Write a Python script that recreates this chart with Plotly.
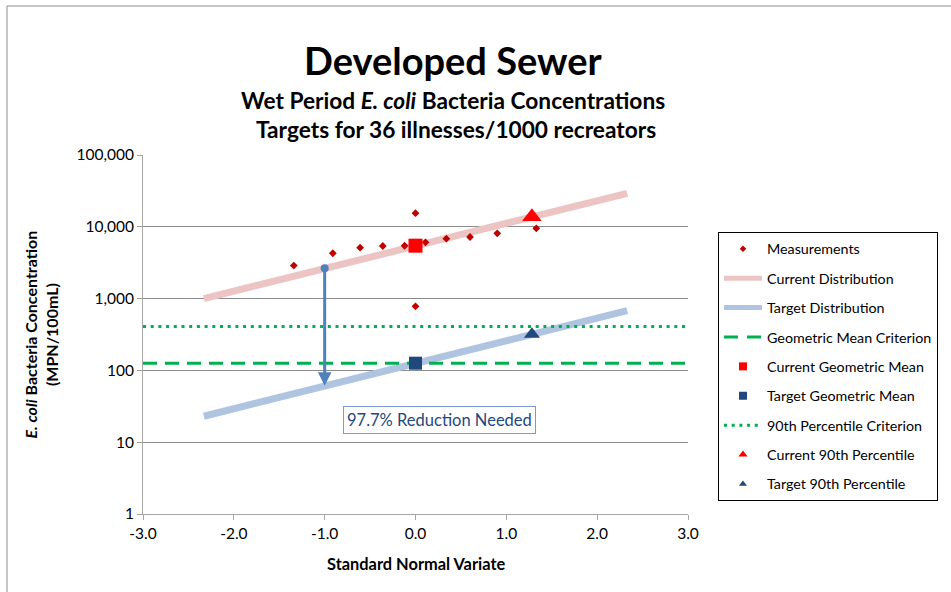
import plotly.graph_objects as go
import math

# ---------------- data ----------------
meas_z = [-1.34, -0.91, -0.61, -0.36, -0.12, 0.0, 0.11, 0.34, 0.60, 0.90, 1.33, 0.0]
meas_c = [2880, 4280, 5120, 5400, 5450, 15500, 6080, 6840, 7210, 8110, 9530, 780]

dist_z = [-2.33, 2.33]
current_dist = [1000, 29300]
target_dist = [23, 680]

crit_z = [-3.0, 3.0]
gm_criterion = [126, 126]
p90_criterion = [410, 410]

current_gm_z, current_gm = [0.0], [5460]
target_gm_z, target_gm = [0.0], [126]
current_p90_z, current_p90 = [1.2816], [13800]
target_p90_z, target_p90 = [1.2816], [318]

arrow_z = -1.0
arrow_top = 2650
arrow_bottom = 61

reduction_label = "97.7% Reduction Needed"
label_z, label_c = 0.26, 20.4

x_ticks = [-3, -2, -1, 0, 1, 2, 3]
x_tick_text = ["-3.0", "-2.0", "-1.0", "0.0", "1.0", "2.0", "3.0"]
y_ticks = [1, 10, 100, 1000, 10000, 100000]
y_tick_text = ["1", "10", "100", "1,000", "10,000", "100,000"]

FONT = "Lato"

fig = go.Figure()

# real traces (no legend)
fig.add_trace(go.Scatter(x=dist_z, y=current_dist, mode="lines",
                         line=dict(color="#EBC4C3", width=7), showlegend=False, hoverinfo="skip"))
fig.add_trace(go.Scatter(x=dist_z, y=target_dist, mode="lines",
                         line=dict(color="#AEC4E0", width=7), showlegend=False, hoverinfo="skip"))
fig.add_trace(go.Scatter(x=crit_z, y=gm_criterion, mode="lines",
                         line=dict(color="#00B050", width=3, dash="14px,8px"), showlegend=False))
fig.add_trace(go.Scatter(x=crit_z, y=p90_criterion, mode="lines",
                         line=dict(color="#00B050", width=3, dash="3px,4.7px"), showlegend=False))
fig.add_trace(go.Scatter(x=meas_z, y=meas_c, mode="markers",
                         marker=dict(symbol="diamond", size=6, color="#C00000"), showlegend=False))
# arrow start dot
fig.add_trace(go.Scatter(x=[arrow_z], y=[arrow_top], mode="markers",
                         marker=dict(symbol="circle", size=8, color="#4F81BD"), showlegend=False))
fig.add_trace(go.Scatter(x=current_gm_z, y=current_gm, mode="markers",
                         marker=dict(symbol="square", size=14, color="#FF0000"), showlegend=False))
fig.add_trace(go.Scatter(x=target_gm_z, y=target_gm, mode="markers",
                         marker=dict(symbol="square", size=13, color="#1F497D"), showlegend=False))
fig.add_trace(go.Scatter(x=current_p90_z, y=current_p90, mode="markers",
                         marker=dict(symbol="triangle-up", size=17, color="#FF0000"), showlegend=False))
fig.add_trace(go.Scatter(x=target_p90_z, y=target_p90, mode="markers",
                         marker=dict(symbol="triangle-up", size=14, color="#1F497D"), showlegend=False))

# legend-only entries
legend_items = [
    ("Measurements", dict(mode="markers", marker=dict(symbol="diamond", size=5, color="#C00000"))),
    ("Current Distribution", dict(mode="lines", line=dict(color="#EBC4C3", width=5))),
    ("Target Distribution", dict(mode="lines", line=dict(color="#AEC4E0", width=5))),
    ("Geometric Mean Criterion", dict(mode="lines", line=dict(color="#00B050", width=3, dash="14px,9px"))),
    ("Current Geometric Mean", dict(mode="markers", marker=dict(symbol="square", size=8, color="#FF0000"))),
    ("Target Geometric Mean", dict(mode="markers", marker=dict(symbol="square", size=8, color="#1F497D"))),
    ("90th Percentile Criterion", dict(mode="lines", line=dict(color="#00B050", width=3, dash="3px,4.7px"))),
    ("Current 90th Percentile", dict(mode="markers", marker=dict(symbol="triangle-up", size=8, color="#FF0000"))),
    ("Target 90th Percentile", dict(mode="markers", marker=dict(symbol="triangle-up", size=7, color="#1F497D"))),
]
for i, (name, kw) in enumerate(legend_items):
    fig.add_trace(go.Scatter(x=[None], y=[None], name=name, legendgroup=f"g{i}", showlegend=True, **kw))

# arrow
fig.add_annotation(x=arrow_z, y=math.log10(arrow_bottom), ax=arrow_z, ay=math.log10(arrow_top),
                   xref="x", yref="y", axref="x", ayref="y", showarrow=True, text="",
                   arrowhead=2, arrowsize=0.9, arrowwidth=3, arrowcolor="#4F81BD", standoff=0)

# reduction label
fig.add_annotation(x=label_z, y=math.log10(label_c), xref="x", yref="y", text=reduction_label,
                   showarrow=False, font=dict(family=FONT, size=16.5, color="#1F497D"),
                   bordercolor="#7B9CCB", borderwidth=1, borderpad=3, bgcolor="white")

# titles
fig.add_annotation(x=0.568, y=1.2646, xref="paper", yref="paper", showarrow=False, yanchor="middle",
                   text="<b>Developed Sewer</b>", font=dict(family=FONT, size=38, color="black"))
fig.add_annotation(x=0.5697, y=1.153, xref="paper", yref="paper", showarrow=False, yanchor="middle",
                   text="<b>Wet Period <i>E. coli</i> Bacteria Concentrations</b>",
                   font=dict(family=FONT, size=22.7, color="black"))
fig.add_annotation(x=0.5752, y=1.072, xref="paper", yref="paper", showarrow=False, yanchor="middle",
                   text="<b>Targets for 36 illnesses/1000 recreators</b>",
                   font=dict(family=FONT, size=22.7, color="black"))
fig.add_annotation(x=-0.1872, y=0.5, xref="paper", yref="paper", showarrow=False, textangle=-90,
                   xanchor="center", yanchor="middle",
                   text="<b><i>E. coli</i> Bacteria Concentration<br>(MPN/100mL)</b>",
                   font=dict(family=FONT, size=16, color="black"))
fig.add_annotation(x=0.5, y=-0.139, xref="paper", yref="paper", showarrow=False, yanchor="middle",
                   text="<b>Standard Normal Variate</b>",
                   font=dict(family=FONT, size=16.4, color="black"))

# chart area border
fig.add_shape(type="rect", xref="paper", yref="paper", x0=-0.2495, x1=1.52, y0=-0.3, y1=1.415,
              line=dict(color="#8C8C8C", width=1), layer="below")

fig.update_layout(
    width=951, height=592,
    margin=dict(l=143, r=263, t=155, b=78),
    paper_bgcolor="white", plot_bgcolor="white",
    font=dict(family=FONT, size=13, color="black"),
    showlegend=True,
    legend=dict(x=1.055, y=0.7855, xanchor="left", yanchor="top",
                bordercolor="black", borderwidth=1, bgcolor="white",
                font=dict(family=FONT, size=14.3, color="black"),
                tracegroupgap=7.8, itemwidth=38),
    xaxis=dict(range=[-3, 3], tickvals=x_ticks, ticktext=x_tick_text, showgrid=False, zeroline=False,
               showline=True, linecolor="#A6A6A6", linewidth=1, ticks="outside", ticklen=5,
               tickcolor="#A6A6A6", tickfont=dict(family=FONT, size=15.5)),
    yaxis=dict(type="log", range=[0, 5], tickvals=y_ticks, ticktext=y_tick_text,
               showgrid=True, gridcolor="#8C8C8C", gridwidth=1, zeroline=False,
               showline=True, linecolor="#A6A6A6", linewidth=1, ticks="outside", ticklen=5,
               tickcolor="#A6A6A6", tickfont=dict(family=FONT, size=15.5)),
)

fig.write_html("out.html")
